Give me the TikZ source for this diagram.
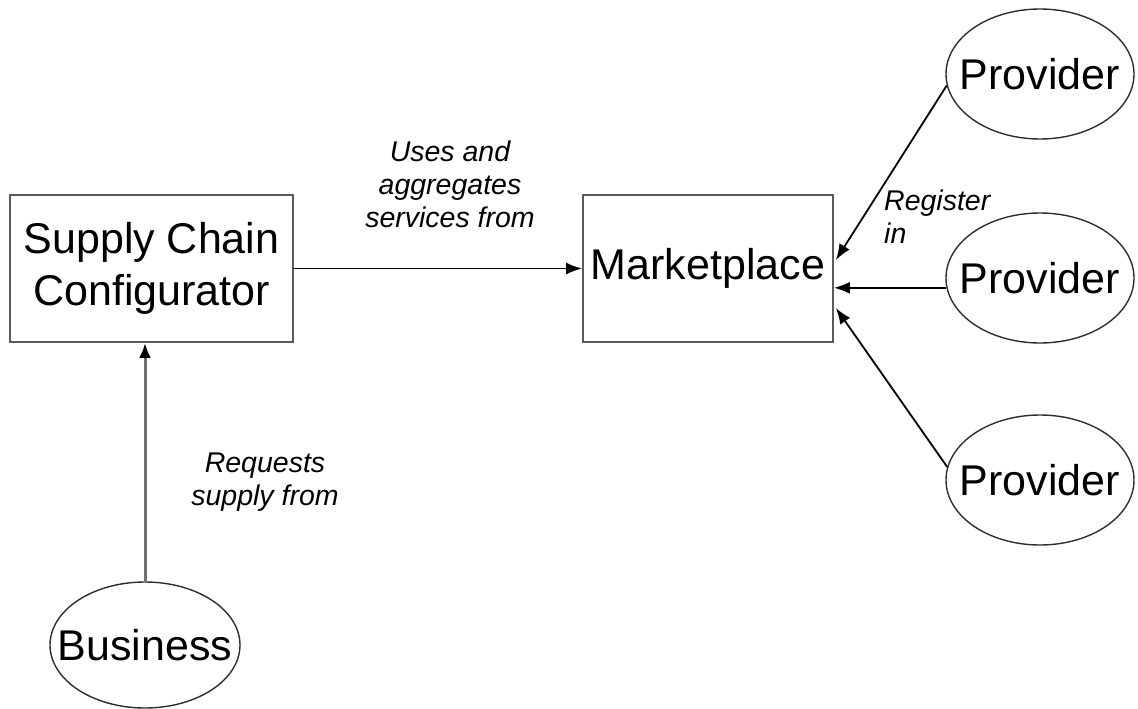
\documentclass[tikz,border=0pt]{standalone}
\usepackage{fontspec}
\setmainfont{Liberation Sans}
\usetikzlibrary{shapes.geometric,arrows.meta,calc}
\definecolor{boxline}{HTML}{5A5A5A}
\definecolor{ovalline}{HTML}{2E2E2E}
\definecolor{stemgray}{HTML}{707070}
% zero-width text so the ellipse keeps its given size
\newcommand{\ovaltext}[1]{\makebox[0pt]{#1}}
\begin{document}
\begin{tikzpicture}[x=1pt,y=-1pt,
  box/.style={draw=boxline,line width=1.8pt,minimum width=283pt,minimum height=147pt,
    inner sep=0pt,align=center,font=\fontsize{43}{52}\selectfont},
  oval/.style={ellipse,draw=ovalline,line width=1.4pt,minimum width=188pt,minimum height=130pt,
    inner sep=0pt,font=\fontsize{43}{52}\selectfont},
  lbl/.style={font=\fontsize{28.5}{33}\selectfont\itshape,inner sep=0pt},
  link/.style={draw=black,line width=1.8pt,-{Latex[length=16pt,width=12pt]}},
  stem/.style={draw=stemgray,line width=3pt,-{Latex[length=15pt,width=12pt,fill=black,color=black]}}]
  \useasboundingbox (0,0) rectangle (1138,709);

  % boxes
  \node[box] (scc) at (151.5,268.5) {Supply Chain\\Configurator};
  \node[box,minimum width=250pt] (mkt) at (708,268.5) {Marketplace};

  % ellipses
  \node[oval] (p1) at (1040,74) {\ovaltext{Provider}};
  \node[oval] (p2) at (1040,278) {\ovaltext{Provider}};
  \node[oval] (p3) at (1040,480) {\ovaltext{Provider}};
  \node[oval,minimum width=190pt,minimum height=126pt] (biz) at (145,645) {\ovaltext{Business}};

  % connectors
  \draw[link] (scc.east) -- (mkt.west);
  \draw[stem] (biz.north) -- (biz.north |- scc.south);
  \coordinate (t1) at ($(mkt.east)+(2,-8.5)$);
  \coordinate (t3) at ($(mkt.east)+(2,39.5)$);
  \draw[link] (p1.187) -- (t1);
  \draw[link] (p2.186) -- (p2.186 -| mkt.east);
  \draw[link] (p3.172) -- (t3);

  % labels
  \node[lbl,align=center] (l1) at (450,184) {Uses and\\aggregates\\services from};
  \node[lbl,align=center] (l2) at (265,482) {Requests\\supply from};
  \node[lbl,align=left,anchor=north west] (l3) at (884,190) {Register\\in};
\end{tikzpicture}
\end{document}
